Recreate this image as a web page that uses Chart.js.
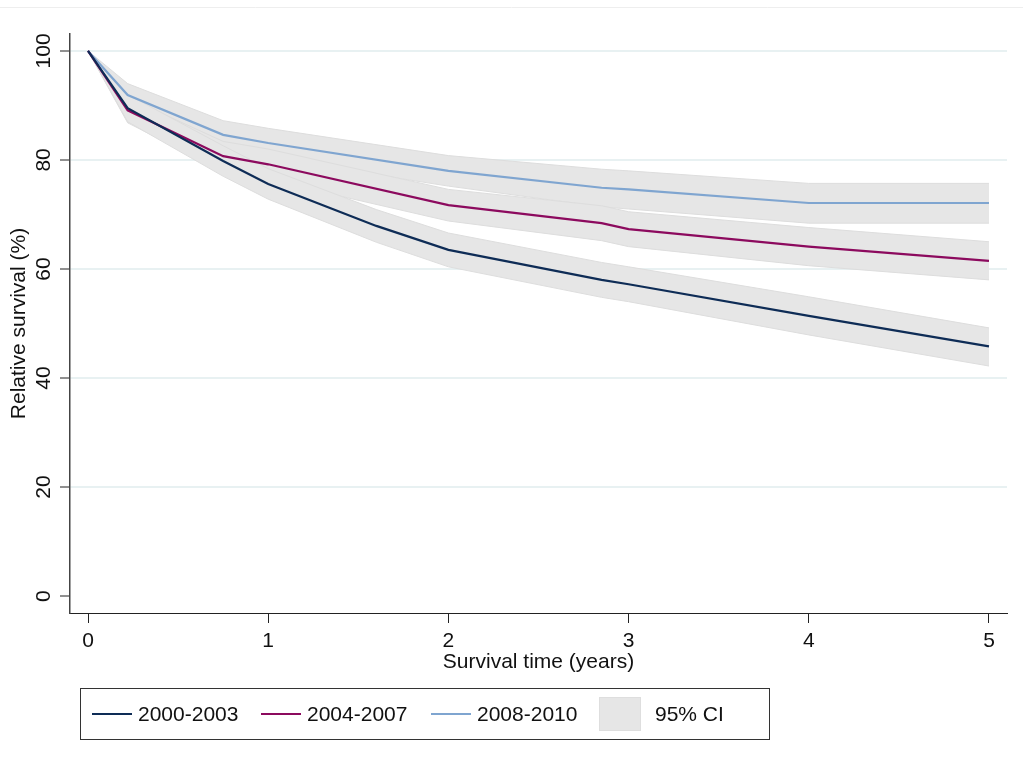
<!DOCTYPE html>
<html><head><meta charset="utf-8">
<script src="https://cdn.jsdelivr.net/npm/chart.js@4.4.1/dist/chart.umd.min.js"></script>
<style>
html,body{margin:0;padding:0;background:#fff;}
#wrap{position:relative;width:1023px;height:773px;}
#legend{position:absolute;left:80px;top:688px;width:690px;height:52px;border:1px solid #333;box-sizing:border-box;font-family:"Liberation Sans",Arial,sans-serif;font-size:21px;color:#111;}
.item{position:absolute;top:0;height:100%;display:flex;align-items:center;white-space:nowrap;}
.sw{display:inline-block;width:40px;height:2px;margin-right:6px;}
.box{display:inline-block;width:42px;height:34px;background:#e6e6e6;border:1px solid #dedede;box-sizing:border-box;margin-right:14px;}
</style></head>
<body><div id="wrap"><canvas id="c"></canvas><div id="legend"></div></div>
<script>
// ---- data ----
const xTicks = [0, 1, 2, 3, 4, 5];
const yTicks = [0, 20, 40, 60, 80, 100];
const seriesNames = ['2000-2003', '2004-2007', '2008-2010'];
const ciLabel = '95% CI';

const t2000  = [0, 0.22, 0.75, 1, 1.6, 2, 2.85, 3, 4, 5];
const s2000  = [100, 89.5, 79.8, 75.6, 67.9, 63.5, 58.0, 57.2, 51.4, 45.8];
const lo2000 = [100, 87.0, 77.0, 72.8, 64.9, 60.4, 54.8, 54.0, 47.9, 42.2];
const hi2000 = [100, 92.0, 82.6, 78.4, 70.9, 66.6, 61.2, 60.4, 54.9, 49.2];

const t2004  = [0, 0.22, 0.75, 1, 2, 2.85, 3, 4, 5];
const s2004  = [100, 89.1, 80.7, 79.2, 71.7, 68.4, 67.3, 64.1, 61.5];
const lo2004 = [100, 86.8, 78.0, 76.4, 68.8, 65.2, 64.1, 60.6, 58.0];
const hi2004 = [100, 91.4, 83.4, 82.0, 74.6, 71.6, 70.5, 67.6, 65.0];

const t2008  = [0, 0.22, 0.75, 1, 2, 2.85, 3, 4, 5];
const s2008  = [100, 91.9, 84.6, 83.1, 78.0, 74.9, 74.6, 72.1, 72.1];
const lo2008 = [100, 89.8, 82.0, 80.4, 75.2, 71.4, 71.0, 68.4, 68.4];
const hi2008 = [100, 94.0, 87.2, 85.8, 80.8, 78.3, 78.0, 75.7, 75.7];

const lineColors = ['#0e2c56', '#8c0a5e', '#7fa5d0'];
const bandFill = '#e6e6e6';
const bandEdge = '#dddddd';
const FONT = '"Liberation Sans", Arial, sans-serif';
const FS = 21;

function pts(t, v) { return t.map((x, i) => ({x: x, y: v[i]})); }

const groups = [
  {t: t2000, s: s2000, lo: lo2000, hi: hi2000},
  {t: t2004, s: s2004, lo: lo2004, hi: hi2004},
  {t: t2008, s: s2008, lo: lo2008, hi: hi2008}
];

const datasets = [];
groups.forEach((g, i) => {
  datasets.push({label: seriesNames[i], data: pts(g.t, g.s), borderColor: lineColors[i],
    borderWidth: 2.2, pointRadius: 0, tension: 0, fill: false});
});
groups.forEach((g, i) => {
  datasets.push({label: 'hi' + i, data: pts(g.t, g.hi), borderColor: bandEdge, borderWidth: 1,
    pointRadius: 0, tension: 0, fill: false});
  datasets.push({label: 'lo' + i, data: pts(g.t, g.lo), borderColor: bandEdge, borderWidth: 1,
    pointRadius: 0, tension: 0, fill: '-1', backgroundColor: bandFill});
});

const topLine = {
  id: 'topLine',
  beforeDraw(chart) {
    const c = chart.ctx; c.save();
    c.strokeStyle = '#eeeeee'; c.lineWidth = 1;
    c.beginPath(); c.moveTo(0, 7.5); c.lineTo(chart.width, 7.5); c.stroke();
    c.restore();
  }
};
const yLabels = {
  id: 'yLabels',
  afterDraw(chart) {
    const sc = chart.scales.y, c = chart.ctx;
    c.save();
    c.fillStyle = '#111'; c.font = FS + 'px ' + FONT;
    c.textAlign = 'center'; c.textBaseline = 'middle';
    yTicks.forEach(v => {
      const py = sc.getPixelForValue(v);
      c.save(); c.translate(44, py); c.rotate(-Math.PI / 2);
      c.fillText(String(v), 0, 0); c.restore();
    });
    c.restore();
  }
};

new Chart(document.getElementById('c'), {
  type: 'line',
  data: {datasets: datasets},
  plugins: [topLine, yLabels],
  options: {
    responsive: true, maintainAspectRatio: false, animation: false,
    layout: {padding: {left: 0, top: 34, right: 16, bottom: 98}},
    plugins: {legend: {display: false}, tooltip: {enabled: false}},
    scales: {
      x: {
        type: 'linear', min: -0.1, max: 5.1,
        afterBuildTicks: s => { s.ticks = xTicks.map(v => ({value: v})); },
        afterFit: s => { s.height = 62; },
        grid: {drawOnChartArea: false, tickColor: '#222', tickLength: 10, tickWidth: 1},
        border: {display: true, color: '#222', width: 1},
        ticks: {color: '#111', font: {family: FONT, size: FS}, padding: 6, maxRotation: 0},
        title: {display: true, text: 'Survival time (years)', color: '#111',
          font: {family: FONT, size: FS}, padding: 0}
      },
      y: {
        type: 'linear', min: -3.1, max: 103.1,
        afterBuildTicks: s => { s.ticks = yTicks.map(v => ({value: v})); },
        afterFit: s => { s.width = 70; },
        grid: {color: ctx => (ctx.tick && ctx.tick.value === 0) ? 'rgba(0,0,0,0)' : '#e8f1f2',
          lineWidth: 2, tickColor: '#222', tickLength: 10, tickWidth: 1},
        border: {display: true, color: '#444', width: 1.5},
        ticks: {display: false},
        title: {display: true, text: 'Relative survival (%)', color: '#111',
          font: {family: FONT, size: FS}, padding: {top: 7, bottom: 0}}
      }
    }
  }
});

// HTML legend
const leg = document.getElementById('legend');
const lx = [11, 180, 350];
seriesNames.forEach((n, i) => {
  const d = document.createElement('div'); d.className = 'item'; d.style.left = lx[i] + 'px';
  d.innerHTML = '<span class="sw" style="background:' + lineColors[i] + '"></span><span>' + n + '</span>';
  leg.appendChild(d);
});
const dc = document.createElement('div'); dc.className = 'item'; dc.style.left = '518px';
dc.innerHTML = '<span class="box"></span><span>' + ciLabel + '</span>';
leg.appendChild(dc);
</script>
</body></html>
